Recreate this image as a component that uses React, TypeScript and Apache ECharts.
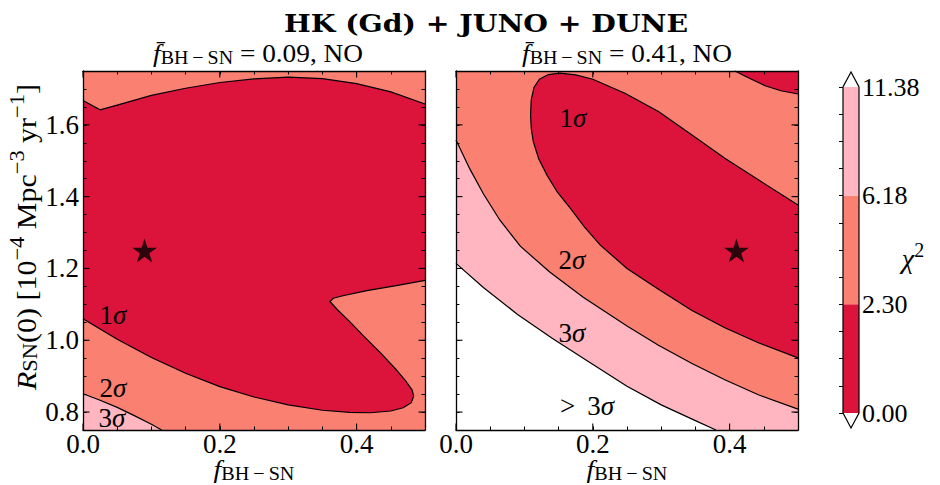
import React, { useEffect, useRef } from 'react';
import * as echarts from 'echarts';

// ---------- data ----------
const fRange = [0, 0.5];
const rRange = [0.75, 1.75];
const minorStep = 0.05;
const fMajorTicks = [0, 0.2, 0.4];
const rMajorTicks = [0.8, 1.0, 1.2, 1.4, 1.6];

const chi2Levels = [0, 2.3, 6.18, 11.38];
const levelColors = ['#DC143C', '#FA8072', '#FFB6C1'];

const leftBestFit = [[0.09, 1.25]];
const rightBestFit = [[0.41, 1.25]];

// left panel (true f = 0.09): 1σ boundary, upper branch
const left1SigmaTop = [
  [0, 1.668], [0.025, 1.642], [0.05, 1.655], [0.1, 1.682], [0.15, 1.702], [0.2, 1.718],
  [0.25, 1.728], [0.3, 1.733], [0.35, 1.729], [0.4, 1.715], [0.45, 1.692], [0.5, 1.658],
];
// left panel: 1σ boundary, lower branch (right edge -> kink -> nose -> left edge)
const left1SigmaInner = [
  [0.5, 1.167], [0.46, 1.153], [0.415, 1.138], [0.38, 1.124], [0.366, 1.117], [0.361, 1.108],
  [0.372, 1.085], [0.39, 1.052], [0.41, 1.012], [0.435, 0.965], [0.457, 0.92], [0.472, 0.886],
  [0.481, 0.862], [0.4835, 0.845], [0.48, 0.826], [0.468, 0.812], [0.45, 0.803], [0.42, 0.798],
  [0.39, 0.799], [0.35, 0.805], [0.3, 0.82], [0.25, 0.842], [0.2, 0.871], [0.15, 0.908],
  [0.1, 0.952], [0.05, 1.003], [0, 1.06],
];
// left panel: 2σ/3σ boundary
const left3Sigma = [
  [0, 0.851], [0.025, 0.833], [0.05, 0.813], [0.075, 0.79], [0.1, 0.766], [0.115, 0.75],
];

// right panel (true f = 0.41)
const right1Sigma = [
  [0.5, 1.377], [0.442, 1.447], [0.393, 1.507], [0.345, 1.572], [0.296, 1.637], [0.247, 1.688],
  [0.2, 1.727], [0.175, 1.739], [0.152, 1.744], [0.135, 1.74], [0.122, 1.727], [0.114, 1.704],
  [0.11, 1.67], [0.109, 1.628], [0.11, 1.59], [0.113, 1.553], [0.121, 1.505], [0.133, 1.46],
  [0.148, 1.413], [0.167, 1.368], [0.188, 1.315], [0.211, 1.265], [0.25, 1.2], [0.296, 1.142],
  [0.345, 1.083], [0.393, 1.035], [0.442, 0.993], [0.5, 0.951],
];
const right1SigmaCorner = [
  [0.408, 1.75], [0.42, 1.738], [0.432, 1.727], [0.452, 1.709], [0.475, 1.695], [0.5, 1.686],
];
const right2Sigma = [
  [0, 1.558], [0.02, 1.478], [0.04, 1.408], [0.064, 1.335], [0.094, 1.262], [0.137, 1.19],
  [0.186, 1.12], [0.25, 1.04], [0.296, 0.986], [0.345, 0.935], [0.393, 0.89], [0.442, 0.848],
  [0.5, 0.808],
];
const right3Sigma = [
  [0, 1.214], [0.04, 1.147], [0.09, 1.072], [0.14, 1.006], [0.19, 0.945], [0.25, 0.872],
  [0.3, 0.82], [0.35, 0.776], [0.38, 0.75],
];

// ---------- helpers ----------
const SERIF = "'Liberation Serif', 'Times New Roman', serif";
const STAR =
  'path://M50,0 L61.2,34.5 L97.6,34.5 L68.2,55.9 L79.4,90.5 L50,69.1 L20.6,90.5 L31.8,55.9 L2.4,34.5 L38.8,34.5 Z';
const SUB_BHSN = 'BH\u2009\u2212\u2009SN';

const near = (a: number, b: number) => Math.abs(a - b) < 1e-6;

function areaSeries(g: number, pts: number[][], color: string, z = 2) {
  return {
    type: 'custom', xAxisIndex: g * 2, yAxisIndex: g * 2, z, silent: true, clip: false,
    data: pts,
    renderItem: (params: any, api: any) => {
      if (params.dataIndex !== 0) return null;
      return {
        type: 'polygon',
        shape: { points: pts.map((p) => api.coord(p)) },
        style: { fill: color, stroke: null },
      };
    },
  };
}

function lineSeries(g: number, pts: number[][]) {
  return {
    type: 'custom', xAxisIndex: g * 2, yAxisIndex: g * 2, z: 3, silent: true, clip: false,
    data: pts,
    renderItem: (params: any, api: any) => {
      if (params.dataIndex !== 0) return null;
      return {
        type: 'polyline',
        shape: { points: pts.map((p) => api.coord(p)) },
        style: { fill: null, stroke: '#000', lineWidth: 1.2 },
      };
    },
  };
}

function majorTickSeries(g: number) {
  const data = [
    ...fMajorTicks.map((v) => [v, rRange[0], 0]),
    ...rMajorTicks.map((v) => [fRange[0], v, 1]),
  ];
  return {
    type: 'custom', xAxisIndex: g * 2, yAxisIndex: g * 2, z: 9, silent: true, clip: false,
    data,
    renderItem: (params: any, api: any) => {
      const isY = api.value(2) === 1;
      const len = 6.5;
      const st = { stroke: '#000', lineWidth: 1.1 };
      if (!isY) {
        const v = api.value(0);
        const a = api.coord([v, rRange[0]]);
        const b = api.coord([v, rRange[1]]);
        return {
          type: 'group',
          children: [
            { type: 'line', shape: { x1: a[0], y1: a[1], x2: a[0], y2: a[1] - len }, style: st },
            { type: 'line', shape: { x1: b[0], y1: b[1], x2: b[0], y2: b[1] + len }, style: st },
          ],
        };
      }
      const v = api.value(1);
      const a = api.coord([fRange[0], v]);
      const b = api.coord([fRange[1], v]);
      return {
        type: 'group',
        children: [
          { type: 'line', shape: { x1: a[0], y1: a[1], x2: a[0] + len, y2: a[1] }, style: st },
          { type: 'line', shape: { x1: b[0], y1: b[1], x2: b[0] - len, y2: b[1] }, style: st },
        ],
      };
    },
  };
}

function xAxisOf(g: number, pos: 'bottom' | 'top', labels: boolean) {
  return {
    type: 'value', gridIndex: g, position: pos, min: fRange[0], max: fRange[1], interval: minorStep, z: 8,
    axisLine: { show: true, onZero: false, lineStyle: { color: '#000', width: 1.3 } },
    axisTick: { show: true, inside: true, length: 3.5, lineStyle: { color: '#000', width: 1 } },
    axisLabel: {
      show: labels, color: '#000', fontFamily: SERIF, fontSize: 27, margin: 2, lineHeight: 24,
      showMinLabel: true, showMaxLabel: true, hideOverlap: false,
      formatter: (v: number) => (fMajorTicks.some((t) => near(t, v)) ? v.toFixed(1) : ''),
    },
    splitLine: { show: false },
  };
}

function yAxisOf(g: number, pos: 'left' | 'right', labels: boolean) {
  return {
    type: 'value', gridIndex: g, position: pos, min: rRange[0], max: rRange[1], interval: minorStep, z: 8,
    axisLine: { show: true, onZero: false, lineStyle: { color: '#000', width: 1.3 } },
    axisTick: { show: true, inside: true, length: 3.5, lineStyle: { color: '#000', width: 1 } },
    axisLabel: {
      show: labels, color: '#000', fontFamily: SERIF, fontSize: 27, margin: 4, lineHeight: 26,
      showMinLabel: true, showMaxLabel: true, hideOverlap: false,
      formatter: (v: number) => (rMajorTicks.some((t) => near(t, v)) ? v.toFixed(1) : ''),
    },
    splitLine: { show: false },
  };
}

function rich(size: number, lh: number, ratio: number) {
  const s = Math.round(size * ratio);
  const pSub = 2 * (2 + 0.3375 * (size - s));
  const pSup = 2 * (0.38 * size - 0.3375 * (size - s));
  return {
    it: { fontStyle: 'italic', fontSize: size, fontFamily: SERIF, lineHeight: lh },
    rm: { fontSize: size, fontFamily: SERIF, lineHeight: lh },
    sub: { fontSize: s, fontFamily: SERIF, lineHeight: lh, padding: [pSub, 0, 0, 0] },
    sup: { fontSize: s, fontFamily: SERIF, lineHeight: lh, padding: [0, 0, pSup, 0] },
  };
}

function txt(x: number, y: number, text: string, size: number, extra: any = {}) {
  const lh = extra.lh || Math.round(size * 1.3);
  return {
    type: 'text', x, y, z: 100, silent: true, rotation: extra.rotation || 0,
    scaleX: extra.scaleX || 1, scaleY: 1,
    style: {
      text, fill: '#000', fontSize: size, fontFamily: extra.family || SERIF,
      fontWeight: extra.weight || 'normal', lineHeight: lh,
      textAlign: 'center', textVerticalAlign: 'middle', align: 'center', verticalAlign: 'middle',
      rich: rich(size, lh, extra.ratio || 0.72),
    },
  };
}

// ---------- option ----------
const [f0, f1] = fRange;
const [r0, r1] = rRange;

const colorbarSeries = {
  type: 'custom', xAxisIndex: 4, yAxisIndex: 4, z: 2, silent: true, clip: false,
  data: levelColors.map((_, i) => [i, i + 1]),
  renderItem: (params: any, api: any) => {
    const i = params.dataIndex;
    const a = api.coord([0, api.value(0)]);
    const b = api.coord([1, api.value(1)]);
    return {
      type: 'rect',
      shape: { x: a[0], y: b[1], width: b[0] - a[0], height: a[1] - b[1] },
      style: { fill: levelColors[i] },
    };
  },
};

const colorbarOutline = {
  type: 'custom', xAxisIndex: 4, yAxisIndex: 4, z: 4, silent: true, clip: false,
  data: [[0, chi2Levels.length - 1]],
  renderItem: (params: any, api: any) => {
    const top = api.value(1);
    const ext = 0.138;
    const p = (x: number, y: number) => api.coord([x, y]);
    const outline = [p(0, 0), p(0.5, -ext), p(1, 0), p(1, top), p(0.5, top + ext), p(0, top)];
    return {
      type: 'group',
      children: [
        { type: 'polygon', shape: { points: [p(0, top), p(0.5, top + ext), p(1, top)] }, style: { fill: '#fff' } },
        { type: 'polygon', shape: { points: [p(0, 0), p(0.5, -ext), p(1, 0)] }, style: { fill: '#fff' } },
        { type: 'polygon', shape: { points: outline }, style: { fill: null, stroke: '#000', lineWidth: 1.2 } },
      ],
    };
  },
};

const option: any = {
  animation: false,
  backgroundColor: '#fff',
  grid: [
    { left: 83, top: 71, width: 342, height: 359, outerBoundsMode: 'none', containLabel: false },
    { left: 456, top: 71, width: 342, height: 359, outerBoundsMode: 'none', containLabel: false },
    { left: 843, top: 87, width: 16, height: 326, outerBoundsMode: 'none', containLabel: false },
  ],
  xAxis: [
    xAxisOf(0, 'bottom', true),
    xAxisOf(0, 'top', false),
    xAxisOf(1, 'bottom', true),
    xAxisOf(1, 'top', false),
    { type: 'value', gridIndex: 2, min: 0, max: 1, show: false },
  ],
  yAxis: [
    yAxisOf(0, 'left', true),
    yAxisOf(0, 'right', false),
    yAxisOf(1, 'left', false),
    yAxisOf(1, 'right', false),
    {
      type: 'value', gridIndex: 2, position: 'right', min: 0, max: chi2Levels.length - 1, interval: 0.25, z: 8,
      axisLine: { show: false },
      axisTick: { show: true, inside: true, length: 4, lineStyle: { color: '#000', width: 1 } },
      axisLabel: {
        color: '#000', fontFamily: SERIF, fontSize: 26, margin: 3, showMinLabel: true, showMaxLabel: true,
        hideOverlap: false,
        formatter: (v: number) => (near(v, Math.round(v)) ? chi2Levels[Math.round(v)].toFixed(2) : ''),
      },
      splitLine: { show: false },
    },
  ],
  series: [
    // left panel
    areaSeries(0, [[f0, r0], [f1, r0], [f1, r1], [f0, r1]], levelColors[1], 1),
    areaSeries(0, [...left3Sigma, [f0, r0]], levelColors[2], 2),
    areaSeries(0, [...left1SigmaTop, ...left1SigmaInner], levelColors[0], 2),
    lineSeries(0, left1SigmaTop),
    lineSeries(0, left1SigmaInner),
    lineSeries(0, left3Sigma),
    majorTickSeries(0),
    {
      type: 'scatter', xAxisIndex: 0, yAxisIndex: 0, data: leftBestFit, symbol: STAR, symbolSize: 25,
      symbolKeepAspect: true, itemStyle: { color: '#000' }, z: 6, silent: true,
    },
    // right panel
    areaSeries(1, [...right3Sigma, [f1, r0], [f1, r1], [f0, r1]], levelColors[2], 1),
    areaSeries(1, [...right2Sigma, [f1, r1], [f0, r1]], levelColors[1], 2),
    areaSeries(1, right1Sigma, levelColors[0], 2),
    areaSeries(1, [...right1SigmaCorner, [f1, r1]], levelColors[0], 2),
    lineSeries(1, right3Sigma),
    lineSeries(1, right2Sigma),
    lineSeries(1, right1Sigma),
    lineSeries(1, right1SigmaCorner),
    majorTickSeries(1),
    {
      type: 'scatter', xAxisIndex: 2, yAxisIndex: 2, data: rightBestFit, symbol: STAR, symbolSize: 25,
      symbolKeepAspect: true, itemStyle: { color: '#000' }, z: 6, silent: true,
    },
    colorbarSeries,
    colorbarOutline,
  ],
  graphic: {
    elements: [
      txt(486, 23, 'HK (Gd) + JUNO + DUNE', 24, { family: "'DejaVu Serif', serif", weight: 'bold', scaleX: 1.18 }),
      txt(258, 53, `{it|f\u0304}{sub|${SUB_BHSN}} = 0.09, NO`, 26, { ratio: 0.74, scaleX: 1.05 }),
      txt(627, 53, `{it|f\u0304}{sub|${SUB_BHSN}} = 0.41, NO`, 26, { ratio: 0.74, scaleX: 1.05 }),
      txt(254, 469, `{it|f}{sub|${SUB_BHSN}}`, 26, { ratio: 0.74, lh: 22, scaleX: 1.06 }),
      txt(627, 469, `{it|f}{sub|${SUB_BHSN}}`, 26, { ratio: 0.74, lh: 22, scaleX: 1.06 }),
      txt(26, 237, '{it|R}{sub|SN}(0) [10{sup|\u22124} Mpc{sup|\u22123} yr{sup|\u22121}]', 28, {
        rotation: Math.PI / 2, ratio: 0.74, scaleX: 1.07,
      }),
      txt(913, 258, '{it|\u03c7}{sup|2}', 28),
      txt(113, 315, '1{it|\u03c3}', 27),
      txt(113, 388, '2{it|\u03c3}', 27),
      txt(112, 418, '3{it|\u03c3}', 27, { lh: 24 }),
      txt(573, 118, '1{it|\u03c3}', 27),
      txt(572, 260, '2{it|\u03c3}', 27),
      txt(572, 333, '3{it|\u03c3}', 27),
      txt(587, 406, '>\u2009 3{it|\u03c3}', 27),
    ],
  },
};

export default function App() {
  const ref = useRef<HTMLDivElement>(null);
  useEffect(() => {
    const chart = echarts.init(ref.current!, null, { renderer: 'svg' });
    chart.setOption(option);
    return () => chart.dispose();
  }, []);
  return (
    <div
      ref={ref}
      style={{ position: 'absolute', left: 0, top: 0, width: 940, height: 485, background: '#fff' }}
    />
  );
}
